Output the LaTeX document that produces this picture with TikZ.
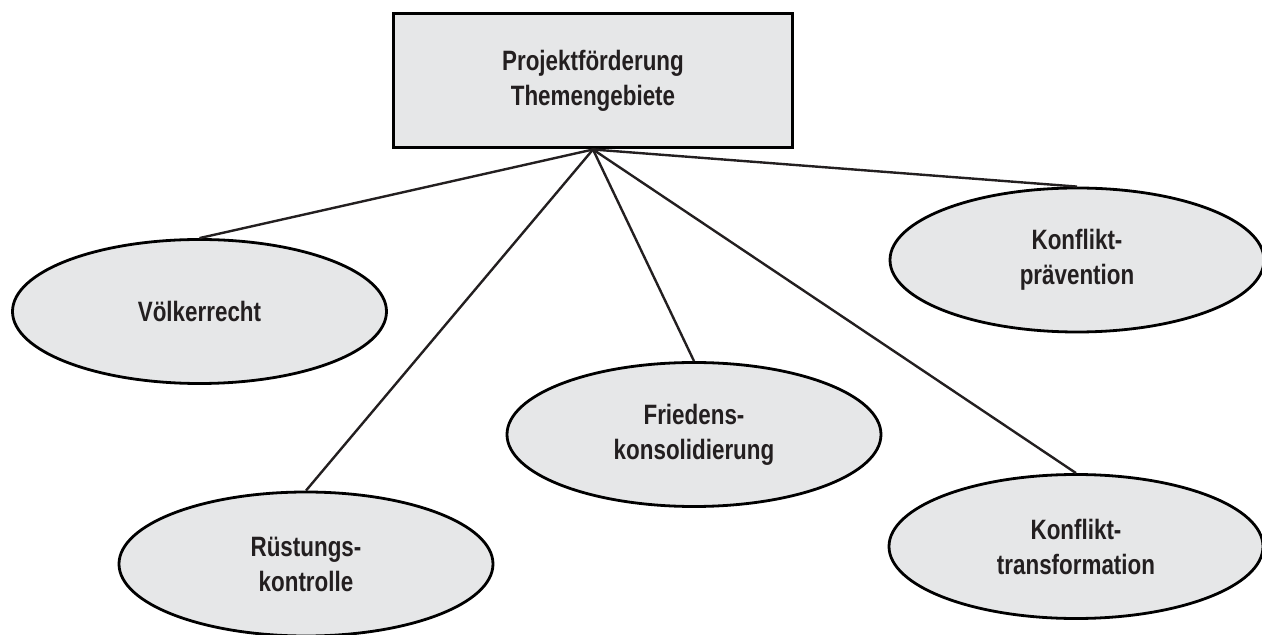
\documentclass[tikz,border=0pt]{standalone}
\usepackage{fontspec}
\newfontfamily\labelfont{Liberation Sans}[FakeStretch=0.80]
\usepackage{tikz}
\usetikzlibrary{shapes, positioning}
\definecolor{fillgray}{RGB}{230,231,232}
\definecolor{textgray}{RGB}{35,31,32}
\tikzset{
    topicnode/.style = {draw, rectangle, fill=fillgray, line width=1.5pt, inner sep=0em, 
      minimum width=199pt, minimum height=67pt, node distance=0em, text=textgray, 
      font=\labelfont\bfseries\fontsize{14pt}{17.5pt}\selectfont},
    fieldnode/.style = {draw, ellipse, fill=fillgray, line width=1.4pt, inner sep=0em, 
      minimum width=187pt, minimum height=72pt, node distance=0em, text=textgray, 
      font=\labelfont\bfseries\fontsize{14pt}{17.5pt}\selectfont},
    connect/.style = {textgray, line width=1.2pt},
    every text node part/.style={align=center}
}

\begin{document}
\begin{tikzpicture}
    \useasboundingbox (-296.5pt,40.5pt) rectangle (334.5pt,-277pt);

    \node [name=root, topicnode] {Projektförderung\\Themengebiete};

    \node [name=voelker, fieldnode, below of = root, xshift=-196.75pt, yshift=-115.25pt] {Völkerrecht};
    \node [name=ruestung, fieldnode, below of = root, xshift=-143.5pt, yshift=-241.5pt] {Rüstungs-\\kontrolle};
    \node [name=frieden, fieldnode, below of = root, xshift=50.5pt, yshift=-176.75pt] {Friedens-\\konsolidierung};
    \node [name=praevention, fieldnode, below of = root, xshift=242pt, yshift=-89.5pt] {Konflikt-\\prävention};
    \node [name=transform, fieldnode, below of = root, xshift=241.5pt, yshift=-232.75pt] {Konflikt-\\transformation};

    \draw (root.south) edge[connect] (voelker.north);
    \draw (root.south) edge[connect] (ruestung.north);
    \draw (root.south) edge[connect] (frieden.north);
    \draw (root.south) edge[connect] (praevention.north);
    \draw (root.south) edge[connect] (transform.north);
\end{tikzpicture}
\end{document}
